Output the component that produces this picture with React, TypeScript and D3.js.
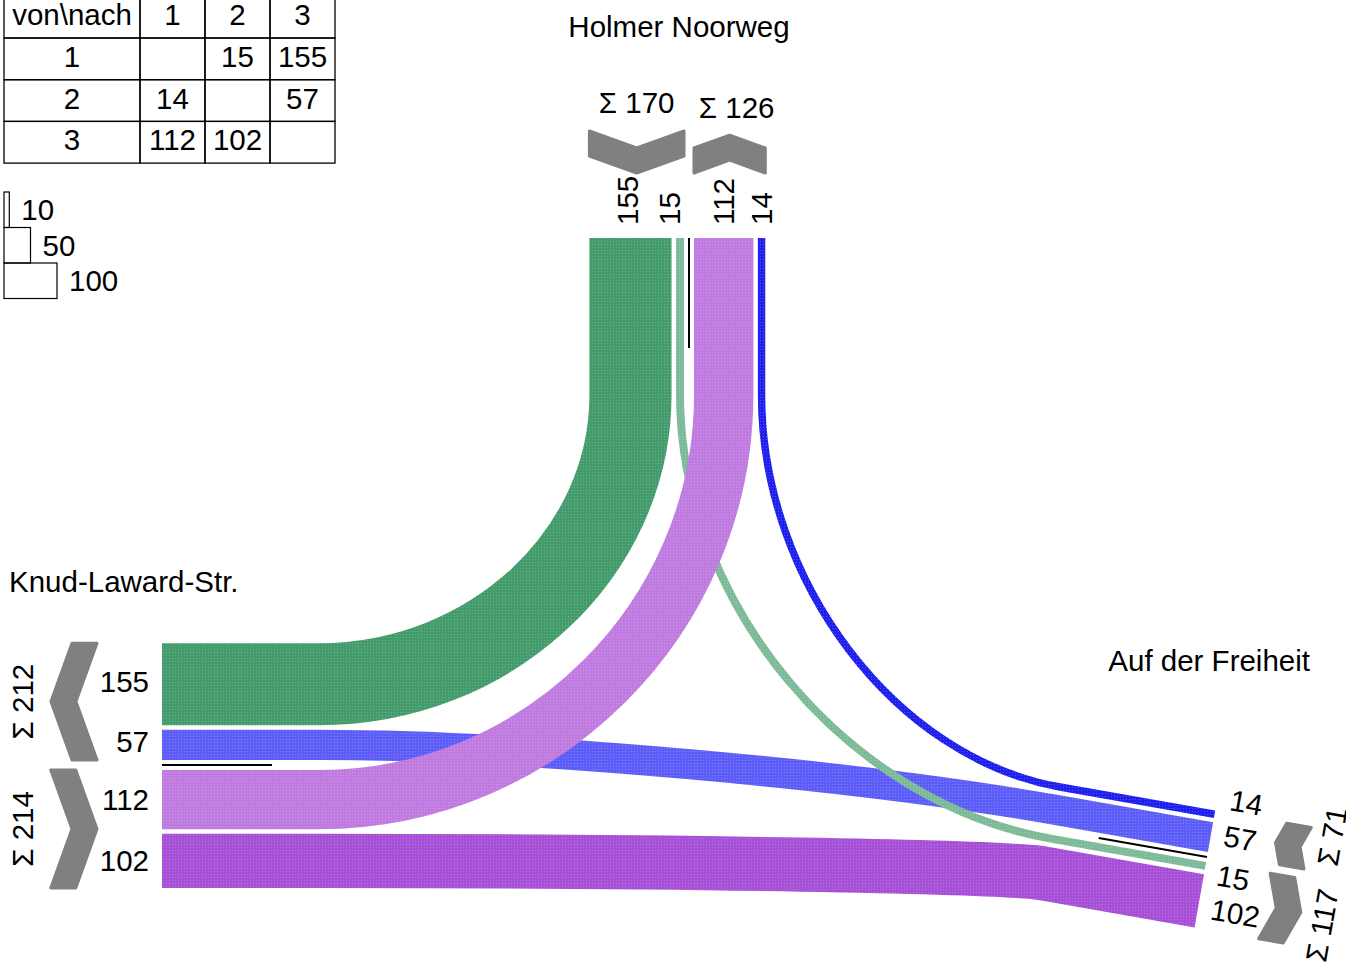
import React from "react";
import * as d3 from "d3";

// ---------- data ----------
const ARM_IDS = [1, 2, 3]; // clockwise order
const ARM_NAMES = ["Holmer Noorweg", "Auf der Freiheit", "Knud-Laward-Str."];
const FLOW_FROM = [1, 1, 2, 2, 3, 3];
const FLOW_TO = [2, 3, 1, 3, 1, 2];
const FLOW_VALUES = [15, 155, 14, 57, 112, 102];
const LEGEND_VALUES = [10, 50, 100];
const TABLE_HEADER = "von\\nach";

// ---------- layout / style ----------
const W = 1346;
const H = 962;
const FONT = "'Liberation Sans', Arial, Helvetica, sans-serif";
const FS = 29.5;
const GAP = 4.5;
const CENTER_GAP = 10;
const STRAIGHT = 157;
const SEP_LEN = 110;
const CHEV_U0 = 65;
const CHEV_T = 25;
const CHEV_SLOPE = 0.18;
const CTRL_F = 0.55;

const ARM_GEOM: Record<number, any> = {
  1: { px: 689, py: 238, angle: -90, name: { x: 679, y: 37, anchor: "middle" } },
  2: { px: 1207, py: 857, angle: 10, name: { x: 1310, y: 671, anchor: "end" } },
  3: { px: 162, py: 765, angle: 180, name: { x: 9, y: 592, anchor: "start" } },
};

const FLOW_COLORS: Record<string, string> = {
  "1-2": "#7cba98",
  "1-3": "#449c6d",
  "2-1": "#2020ee",
  "2-3": "#5d5df7",
  "3-1": "#c07be0",
  "3-2": "#a64fd7",
};
const DRAW_ORDER = ["1-3", "3-2", "2-3", "2-1", "1-2", "3-1"];

// lateral nudges of lane labels (key: "from-to@arm")
const LABEL_NUDGE: Record<string, number> = {
  "1-2@1": -11,
  "1-3@1": -3,
  "2-1@2": -17,
  "2-3@2": -4,
  "1-2@2": 7,
  "3-2@2": 6,
  "1-3@3": 3,
  "2-3@3": 3,
};
const SUM_NUDGE: Record<string, number> = { "1to": 7, "2from": -16, "2to": 9 };
const SUM_U_NUDGE: Record<string, number> = { "2from": -6, "2to": -5 };

const wScale = d3.scaleLinear().domain([0, 100]).range([0, 53]);

function dirs(arm: number) {
  const a = (ARM_GEOM[arm].angle * Math.PI) / 180;
  const d = [Math.cos(a), Math.sin(a)];
  const n = [-Math.sin(a), Math.cos(a)];
  return { d, n };
}
function pt(arm: number, u: number, v: number): [number, number] {
  const g = ARM_GEOM[arm];
  const { d, n } = dirs(arm);
  return [g.px + u * d[0] + v * n[0], g.py + u * d[1] + v * n[1]];
}
function readable(deg: number) {
  let r = ((deg % 360) + 360) % 360;
  let flipped = false;
  if (r > 90 && r < 270) {
    r -= 180;
    flipped = true;
  } else if (r >= 270) r -= 360;
  return { r, flipped };
}

const flows = FLOW_FROM.map((f, i) => ({ from: f, to: FLOW_TO[i], value: FLOW_VALUES[i], key: `${f}-${FLOW_TO[i]}` }));
const nextArm = (a: number) => ARM_IDS[(ARM_IDS.indexOf(a) + 1) % ARM_IDS.length];
const prevArm = (a: number) => ARM_IDS[(ARM_IDS.indexOf(a) + ARM_IDS.length - 1) % ARM_IDS.length];
const findFlow = (f: number, t: number) => flows.find((x) => x.from === f && x.to === t)!;

// lane positions
const laneV: Record<string, number> = {};
const groups: any[] = [];
ARM_IDS.forEach((a) => {
  const fromLanes = [findFlow(a, nextArm(a)), findFlow(a, nextArm(nextArm(a)))];
  const toLanes = [findFlow(prevArm(a), a), findFlow(prevArm(prevArm(a)), a)];
  [
    { lanes: fromLanes, sign: -1, side: "from" },
    { lanes: toLanes, sign: 1, side: "to" },
  ].forEach(({ lanes, sign, side }) => {
    let cum = CENTER_GAP / 2;
    const start = cum;
    lanes.forEach((fl, i) => {
      const w = wScale(fl.value);
      laneV[`${fl.key}@${a}`] = sign * (cum + w / 2);
      cum += w + (i < lanes.length - 1 ? GAP : 0);
    });
    groups.push({ arm: a, side, sign, va: sign * start, vb: sign * cum, total: d3.sum(lanes, (l) => l.value) });
  });
});

function flowPath(fl: any) {
  const vF = laneV[`${fl.key}@${fl.from}`];
  const vT = laneV[`${fl.key}@${fl.to}`];
  const S = pt(fl.from, 0, vF);
  const A = pt(fl.from, -STRAIGHT, vF);
  const B = pt(fl.to, -STRAIGHT, vT);
  const E = pt(fl.to, 0, vT);
  const dA = dirs(fl.from).d.map((x) => -x);
  const dB = dirs(fl.to).d;
  const det = dA[0] * dB[1] - dA[1] * dB[0];
  const p = d3.path();
  p.moveTo(S[0], S[1]);
  p.lineTo(A[0], A[1]);
  let ok = false;
  if (Math.abs(det) > 1e-6) {
    const rx = B[0] - A[0];
    const ry = B[1] - A[1];
    const t = (rx * dB[1] - ry * dB[0]) / det;
    const s = (dA[0] * ry - dA[1] * rx) / det;
    if (t > 0 && s > 0) {
      const K = [A[0] + t * dA[0], A[1] + t * dA[1]];
      p.bezierCurveTo(
        A[0] + CTRL_F * (K[0] - A[0]),
        A[1] + CTRL_F * (K[1] - A[1]),
        B[0] + CTRL_F * (K[0] - B[0]),
        B[1] + CTRL_F * (K[1] - B[1]),
        B[0],
        B[1]
      );
      ok = true;
    }
  }
  if (!ok) {
    const k = Math.hypot(B[0] - A[0], B[1] - A[1]) * 0.4;
    p.bezierCurveTo(A[0] + k * dA[0], A[1] + k * dA[1], B[0] - k * dB[0], B[1] - k * dB[1], B[0], B[1]);
  }
  p.lineTo(E[0], E[1]);
  return p.toString();
}

function chevron(g: any) {
  const wid = Math.abs(g.vb - g.va);
  const D = CHEV_SLOPE * wid;
  const vm = (g.va + g.vb) / 2;
  const u0 = CHEV_U0;
  let pts: [number, number][];
  if (g.side === "from") {
    pts = [
      [u0 + D, g.va],
      [u0, vm],
      [u0 + D, g.vb],
      [u0 + D + CHEV_T, g.vb],
      [u0 + CHEV_T, vm],
      [u0 + D + CHEV_T, g.va],
    ];
  } else {
    pts = [
      [u0, g.va],
      [u0 + D, vm],
      [u0, g.vb],
      [u0 + CHEV_T, g.vb],
      [u0 + CHEV_T + D, vm],
      [u0 + CHEV_T, g.va],
    ];
  }
  const outer = u0 + D + CHEV_T;
  return { pts: pts.map(([u, v]) => pt(g.arm, u, v)), outer, vm };
}

export default function App() {
  const colX = [4, 140, 205, 270, 335];
  const rowY0 = -3.7;
  const rowH = 41.7;
  const tableRows = [TABLE_HEADER, ...ARM_IDS.map(String)];

  return (
    <svg width={W} height={H} style={{ position: "absolute", left: 0, top: 0, background: "#fff" }} fontFamily={FONT}>
      <defs>
        {Object.entries(FLOW_COLORS).map(([k, c]) => (
          <pattern key={k} id={`pat-${k}`} width={3} height={3} patternUnits="userSpaceOnUse">
            <rect width={3} height={3} fill={c} />
            <rect x={1} y={1} width={1} height={1} fill="#fff" opacity={0.22} />
          </pattern>
        ))}
      </defs>

      {/* table */}
      <g fontSize={FS} fill="#000">
        {tableRows.map((r, ri) =>
          [r, ...ARM_IDS.map((c) => (ri === 0 ? String(c) : ""))].map((txt, ci) => {
            let t = txt;
            if (ri > 0 && ci > 0) {
              const f = flows.find((x) => x.from === ARM_IDS[ri - 1] && x.to === ARM_IDS[ci - 1]);
              t = f ? String(f.value) : "";
            }
            return (
              <g key={`${ri}-${ci}`}>
                <rect x={colX[ci]} y={rowY0 + ri * rowH} width={colX[ci + 1] - colX[ci]} height={rowH} fill="none" stroke="#000" strokeWidth={1.3} />
                <text x={(colX[ci] + colX[ci + 1]) / 2} y={rowY0 + ri * rowH + 29} textAnchor="middle">
                  {t}
                </text>
              </g>
            );
          })
        )}
      </g>

      {/* legend */}
      <g fontSize={FS}>
        {LEGEND_VALUES.map((v, i) => {
          const y = 192 + i * 35.5;
          return (
            <g key={v}>
              <rect x={4} y={y} width={wScale(v)} height={35.5} fill="none" stroke="#000" strokeWidth={1.2} />
              <text x={4 + wScale(v) + 12} y={y + 17.5} dominantBaseline="central">
                {v}
              </text>
            </g>
          );
        })}
      </g>

      {/* flows */}
      {DRAW_ORDER.map((k) => {
        const fl = flows.find((f) => f.key === k)!;
        return <path key={k} d={flowPath(fl)} fill="none" stroke={`url(#pat-${k})`} strokeWidth={wScale(fl.value)} strokeLinecap="butt" />;
      })}

      {/* separators */}
      {ARM_IDS.map((a) => {
        const p0 = pt(a, 0, 0);
        const p1 = pt(a, -SEP_LEN, 0);
        return <line key={a} x1={p0[0]} y1={p0[1]} x2={p1[0]} y2={p1[1]} stroke="#000" strokeWidth={2} />;
      })}

      {/* chevrons and sums */}
      {groups.map((g) => {
        const c = chevron(g);
        const rot = readable(ARM_GEOM[g.arm].angle + 90).r;
        const key = `${g.arm}${g.side}`;
        const lp = pt(g.arm, c.outer + 28 + (SUM_U_NUDGE[key] || 0), c.vm + (SUM_NUDGE[key] || 0));
        return (
          <g key={`${g.arm}-${g.side}`}>
            <polygon points={c.pts.map((p) => p.join(",")).join(" ")} fill="#808080" stroke="#808080" strokeWidth={3} strokeLinejoin="round" />
            <text x={lp[0]} y={lp[1]} fontSize={FS} textAnchor="middle" dominantBaseline="central" transform={`rotate(${rot},${lp[0]},${lp[1]})`}>
              {`Σ ${g.total}`}
            </text>
          </g>
        );
      })}

      {/* lane labels */}
      {ARM_IDS.map((a) => {
        const { r, flipped } = readable(ARM_GEOM[a].angle);
        return flows
          .filter((f) => f.from === a || f.to === a)
          .map((f) => {
            const key = `${f.key}@${a}`;
            const p = pt(a, 13, laneV[key] + (LABEL_NUDGE[key] || 0));
            return (
              <text key={key} x={p[0]} y={p[1]} fontSize={FS} textAnchor={flipped ? "end" : "start"} dominantBaseline="central" transform={`rotate(${r},${p[0]},${p[1]})`}>
                {f.value}
              </text>
            );
          });
      })}

      {/* arm names */}
      {ARM_IDS.map((a, i) => {
        const nm = ARM_GEOM[a].name;
        return (
          <text key={a} x={nm.x} y={nm.y} fontSize={FS} textAnchor={nm.anchor}>
            {ARM_NAMES[i]}
          </text>
        );
      })}
    </svg>
  );
}
